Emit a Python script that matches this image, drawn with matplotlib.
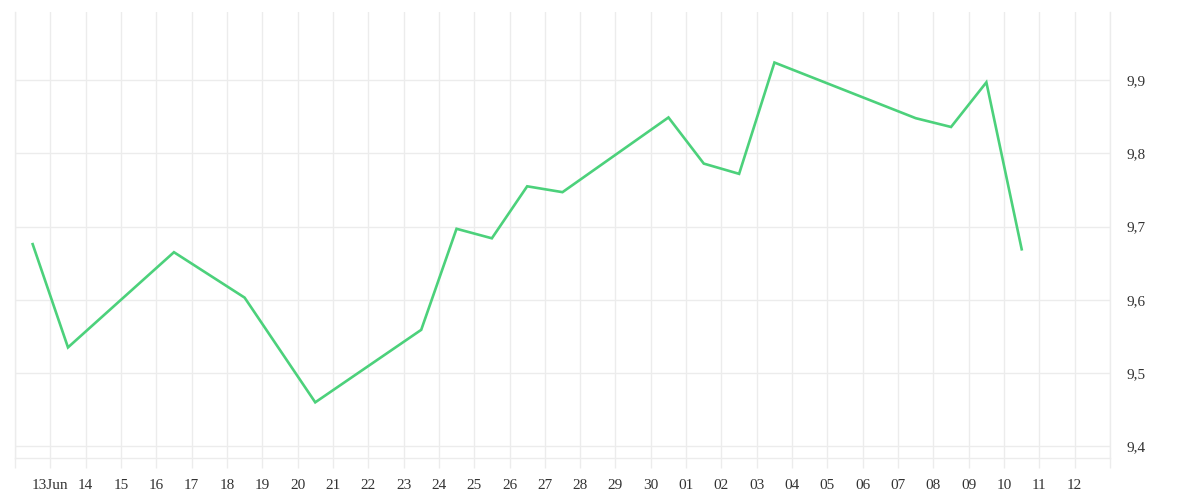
import datetime as dt
import matplotlib
matplotlib.use("Agg")
import matplotlib.pyplot as plt
import matplotlib.dates as mdates

# data (values at noon of each day)
dates = ["2023-06-12", "2023-06-13", "2023-06-16", "2023-06-18", "2023-06-20",
         "2023-06-23", "2023-06-24", "2023-06-25", "2023-06-26", "2023-06-27",
         "2023-06-30", "2023-07-01", "2023-07-02", "2023-07-03", "2023-07-07",
         "2023-07-08", "2023-07-09", "2023-07-10"]
values = [9.676, 9.535, 9.665, 9.603, 9.460,
          9.559, 9.697, 9.684, 9.755, 9.747,
          9.849, 9.786, 9.772, 9.924, 9.848,
          9.836, 9.897, 9.669]
y_ticks = [9.4, 9.5, 9.6, 9.7, 9.8, 9.9]
y_labels = ["9,4", "9,5", "9,6", "9,7", "9,8", "9,9"]
x_start = "2023-06-12"
x_end = "2023-07-13"

LINE = "#4cd17b"
GRID = "#ececec"
TEXT = "#333333"

plt.rcParams["font.family"] = ["Liberation Serif", "DejaVu Serif"]

xs = [dt.datetime.strptime(d, "%Y-%m-%d") + dt.timedelta(hours=12) for d in dates]
start = dt.datetime.strptime(x_start, "%Y-%m-%d")
end = dt.datetime.strptime(x_end, "%Y-%m-%d")
days = [start + dt.timedelta(days=i) for i in range((end - start).days + 1)]


def day_label(d):
    if d == start or d == end:
        return ""
    if d == start + dt.timedelta(days=1):
        return str(d.day) + d.strftime("%b")
    return d.strftime("%d")


fig = plt.figure(figsize=(12, 5), dpi=100, facecolor="white")
ax = fig.add_axes([15 / 1200, 1 - 458 / 500, (1110 - 15) / 1200, (458 - 12) / 500])

ax.plot(xs, values, color=LINE, linewidth=1.9, solid_joinstyle="miter", zorder=3)

ax.set_xlim(start, end)
ax.set_ylim(9.384, 9.993)

ax.set_xticks([mdates.date2num(d) for d in days])
ax.set_xticklabels([day_label(d) for d in days])
ax.set_yticks(y_ticks)
ax.set_yticklabels(y_labels)

ax.yaxis.tick_right()
ax.grid(True, color=GRID, linewidth=1)
ax.set_axisbelow(True)

ax.tick_params(axis="x", length=7.2, width=1, color=GRID, pad=8,
               labelsize=11, labelcolor=TEXT)
ax.tick_params(axis="y", length=0, pad=12, labelsize=11, labelcolor=TEXT)

ax.spines["top"].set_visible(False)
for side in ("left", "right", "bottom"):
    ax.spines[side].set_color(GRID)
    ax.spines[side].set_linewidth(1)

fig.savefig("out.png", dpi=100, facecolor="white")
